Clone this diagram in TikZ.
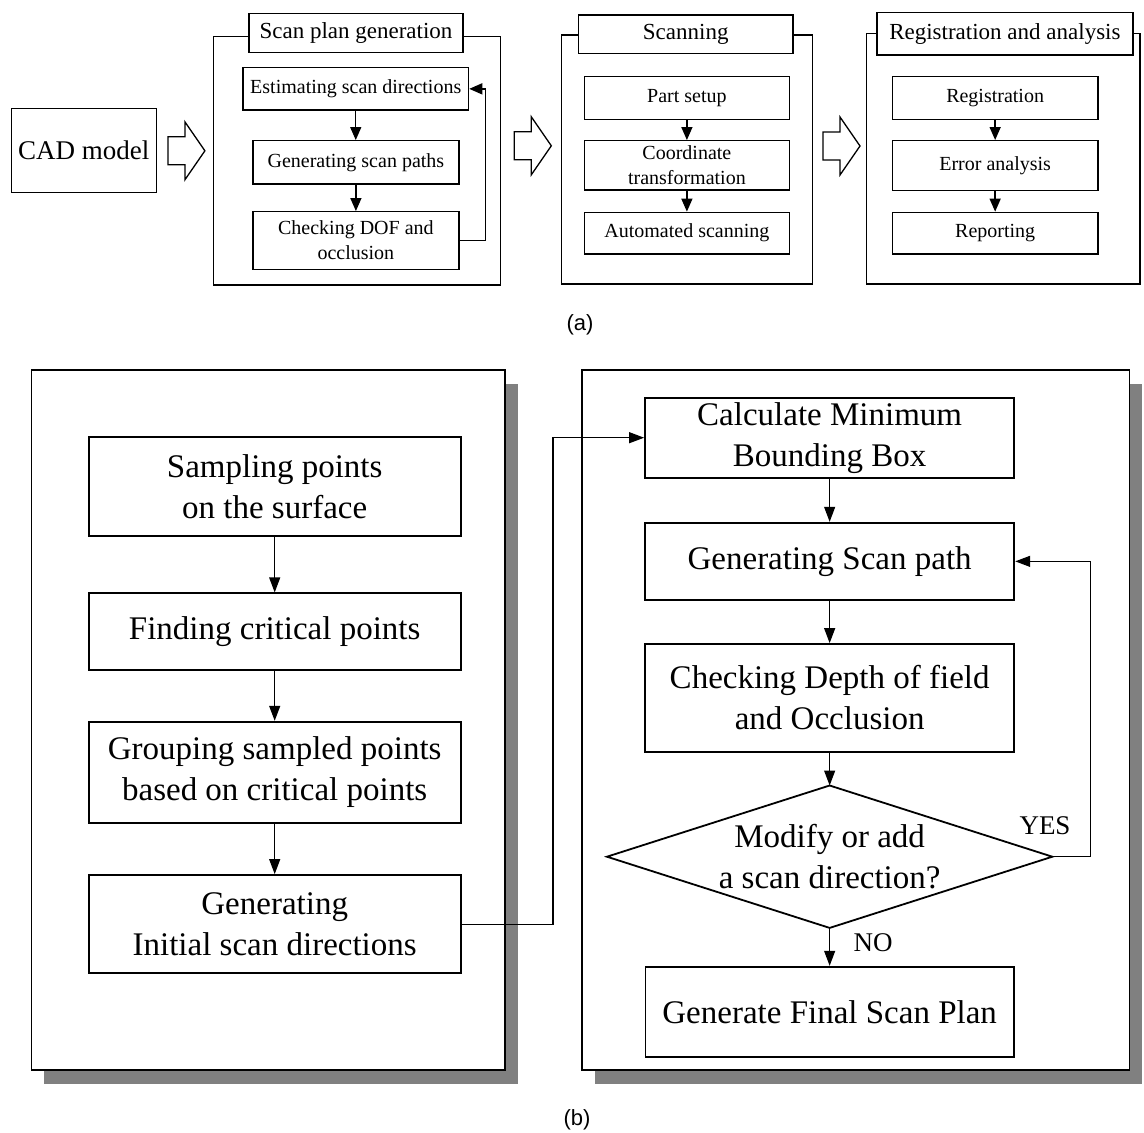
\documentclass[tikz,border=0pt]{standalone}
\usepackage{fontspec}
\setmainfont{Liberation Serif}
\newfontfamily\labfont{Liberation Sans}
\usetikzlibrary{arrows.meta,calc}

% hollow block arrow: start x, middle y
\newcommand\blkarrow[2]{%
  \draw[blk] (#1,#2-14) -- (#1+17,#2-14) -- (#1+17,#2-29) -- (#1+37,#2)
    -- (#1+17,#2+29) -- (#1+17,#2+14) -- (#1,#2+14) -- cycle;}

\begin{document}
\begin{tikzpicture}[x=1pt,y=-1pt,
  every node/.style={inner sep=0pt, align=center},
  box/.style 2 args={draw, fill=white, line width=1.3pt,
    minimum width=#1, minimum height=#2},
  bbox/.style 2 args={draw, fill=white, line width=1.8pt,
    minimum width=#1, minimum height=#2},
  panel/.style 2 args={draw, line width=1.3pt,
    minimum width=#1, minimum height=#2},
  bpanel/.style 2 args={draw, fill=white, line width=1.8pt,
    minimum width=#1, minimum height=#2},
  blk/.style={draw, line width=1.3pt, fill=white, line join=miter},
  small/.style={font=\fontsize{20}{25}\selectfont},
  ttl/.style={font=\fontsize{23}{27}\selectfont},
  big/.style={font=\fontsize{33}{41}\selectfont},
  tarr/.style={line width=1.4pt, -{Triangle[width=11pt,length=13pt]}},
  barr/.style={line width=1.2pt, -{Triangle[width=11pt,length=15pt]}},
  shadowfill/.style={fill=black!50}
]
\useasboundingbox (0,0) rectangle (1144,1133);

% ---------------- (a) process overview ----------------
\node[box={145}{84}, font=\fontsize{27}{31}\selectfont] (cad) at (83.7,150.3) {CAD model};

\blkarrow{167.9}{150.8}

% scan plan generation
\node[panel={287.4}{248.3}] (spg) at (356.9,160.85) {};
\node[box={214}{39}, ttl] (spgt) at (356,32.8) {Scan plan generation};
\node[box={225.7}{42.3}, small] (est) at (355.75,88.85) {Estimating scan directions};
\node[box={206}{43.3}, small] (gsp) at (355.9,162.35) {Generating scan paths};
\node[box={206}{57.6}, small] (chk) at (355.9,240.5) {Checking DOF and\\occlusion};
\draw[tarr] (est.south) -- (est.south |- gsp.north);
\draw[tarr] (gsp.south) -- (gsp.south |- chk.north);
\draw[tarr] (chk.east) -- ++(26,0) |- (est.east);

\blkarrow{514.3}{145.8}

% scanning
\node[panel={251.4}{249}] (scn) at (686.9,159.5) {};
\node[box={214.5}{38.3}, ttl] (scnt) at (685.75,34.15) {Scanning};
\node[box={205.2}{42.6}, small] (part) at (686.9,98) {Part setup};
\node[box={205.2}{49.3}, small] (coord) at (686.9,165.35) {Coordinate\\transformation};
\node[box={205.2}{41.7}, small] (auto) at (686.9,233.15) {Automated scanning};
\draw[tarr] (part.south) -- (coord.north);
\draw[tarr] (coord.south) -- (auto.north);

\blkarrow{823}{146}

% registration and analysis
\node[panel={273.5}{250.7}] (reg) at (1003.25,158.65) {};
\node[box={256}{42.7}, ttl] (regt) at (1004.9,33.65) {Registration and analysis};
\node[box={205.7}{42.6}, small] (regi) at (995.15,98) {Registration};
\node[box={205.7}{50}, small] (err) at (995.15,165.7) {Error analysis};
\node[box={205.7}{41.7}, small] (rep) at (995.15,233.15) {Reporting};
\draw[tarr] (regi.south) -- (err.north);
\draw[tarr] (err.south) -- (rep.north);

\node[font=\labfont\fontsize{22}{26}\selectfont] (capa) at (580,325) {(a)};

% ---------------- (b) scan planning flow ----------------
\coordinate (lpc) at (268.2,720);
\coordinate (rpc) at (855.7,720);
\fill[shadowfill] ($(lpc)+(-236.8+13,-350+14)$) rectangle ($(lpc)+(236.8+13,350+14)$);
\fill[shadowfill] ($(rpc)+(-273.7+13,-350+14)$) rectangle ($(rpc)+(273.7+13,350+14)$);
\node[bpanel={473.6}{700}] (lp) at (lpc) {};
\node[bpanel={547.4}{700}] (rp) at (rpc) {};

\node[bbox={371.8}{99.3}, big] (samp) at (274.7,486.35) {Sampling points\\on the surface};
\node[bbox={371.8}{76.7}, big] (find) at (274.7,631.65) {Finding critical points};
\node[bbox={371.8}{101.6}, big] (grp) at (274.7,772.5) {Grouping sampled points\\based on critical points};
\node[bbox={371.8}{98.3}, big] (gini) at (274.7,924.15) {Generating\\Initial scan directions};
\draw[barr] (samp) -- (find);
\draw[barr] (find) -- (grp);
\draw[barr] (grp) -- (gini);

\node[bbox={369.3}{80}, big] (calc) at (829.65,437.7) {Calculate Minimum\\Bounding Box};
\node[bbox={369.3}{77.3}, big] (gsp2) at (829.65,561.35) {Generating Scan path};
\node[bbox={369.3}{107.7}, big] (chk2) at (829.65,697.85) {Checking Depth of field\\and Occlusion};
\node[minimum width=445, minimum height=142] (dec) at (829.65,856.7) {};
\draw[line width=1.8pt, line join=miter] (dec.north) -- (dec.east) -- (dec.south) -- (dec.west) -- cycle;
\node[big] (dect) at (dec) {Modify or add\\a scan direction?};
\node[bbox={368.3}{90}, big] (fin) at (829.65,1011.7) {Generate Final Scan Plan};

\draw[barr] (gini.east) -- (553,924.15) |- (calc.west);
\draw[barr] (calc) -- (gsp2);
\draw[barr] (gsp2) -- (chk2);
\draw[barr] (chk2.south) -- (dec.north);
\draw[barr] (dec.south) -- (fin.north);
\draw[barr] (dec.east) -- (1090.5,856.7) |- (gsp2.east);

\node[font=\fontsize{27}{31}\selectfont] (yes) at (1045,826) {YES};
\node[font=\fontsize{27}{31}\selectfont] (no) at (873,943) {NO};

\node[font=\labfont\fontsize{22}{26}\selectfont] (capb) at (577,1120) {(b)};
\end{tikzpicture}
\end{document}
